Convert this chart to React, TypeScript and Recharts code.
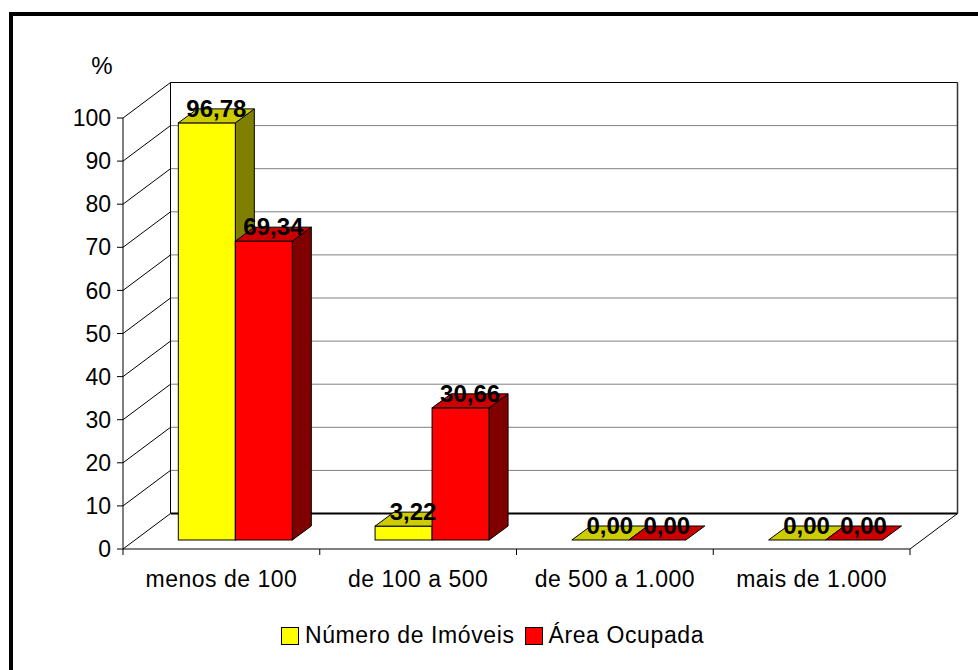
import React from 'react';
import {
  BarChart,
  Bar,
  XAxis,
  YAxis,
  CartesianGrid,
  ReferenceArea,
  LabelList,
  Legend,
} from 'recharts';

// Faixas de área (ha) e percentuais de cada série
const categories = ['menos de 100', 'de 100 a 500', 'de 500 a 1.000', 'mais de 1.000'];
const numeroImoveis = [96.78, 3.22, 0.0, 0.0];
const areaOcupada = [69.34, 30.66, 0.0, 0.0];
const yTicks = [0, 10, 20, 30, 40, 50, 60, 70, 80, 90, 100];

const seriesNames = { imoveis: 'Número de Imóveis', area: 'Área Ocupada' };

const data = categories.map((faixa, i) => ({
  faixa,
  imoveis: numeroImoveis[i],
  area: areaOcupada[i],
}));

const FONT = '"Liberation Sans", Arial, sans-serif';

// Pseudo-3D geometry: back wall offset and bar placement inside the depth
const WALL_DX = 47.5;
const WALL_DY = -35.5;
const BAR_DX = 14;
const BAR_DY = -9;
const DEPTH_DX = 19;
const DEPTH_DY = -14;

const fmt = (v: number) => v.toFixed(2).replace('.', ',');

const makeBox = (front: string, top: string, side: string) => (props: any) => {
  const { x, y, width, height } = props;
  if (x == null || y == null) return null;
  const fx = x + BAR_DX;
  const fy = y + BAR_DY;
  const h = Math.max(0, height || 0);
  const topPts = [
    [fx, fy],
    [fx + width, fy],
    [fx + width + DEPTH_DX, fy + DEPTH_DY],
    [fx + DEPTH_DX, fy + DEPTH_DY],
  ]
    .map((p) => p.join(','))
    .join(' ');
  const sidePts = [
    [fx + width, fy],
    [fx + width + DEPTH_DX, fy + DEPTH_DY],
    [fx + width + DEPTH_DX, fy + h + DEPTH_DY],
    [fx + width, fy + h],
  ]
    .map((p) => p.join(','))
    .join(' ');
  return (
    <g>
      {h > 0 && <polygon points={sidePts} fill={side} stroke="#000" strokeWidth={1} strokeLinejoin="round" />}
      {h > 0 && <rect x={fx} y={fy} width={width} height={h} fill={front} stroke="#000" strokeWidth={1} />}
      <polygon points={topPts} fill={top} stroke="#000" strokeWidth={1} strokeLinejoin="round" />
    </g>
  );
};

const YellowBox = makeBox('#FFFF00', '#CCCC00', '#808000');
const RedBox = makeBox('#FF0000', '#CC0000', '#800000');

const ValueLabel = (props: any) => {
  const { x, y, width, value } = props;
  if (x == null || y == null) return null;
  const cx = x + BAR_DX + width / 2 + DEPTH_DX / 2;
  const by = y + BAR_DY - 6;
  return (
    <text
      x={cx}
      y={by}
      textAnchor="middle"
      fontFamily={FONT}
      fontSize={24}
      fontWeight="bold"
      fill="#000"
    >
      {fmt(Number(value))}
    </text>
  );
};

// Side wall diagonals and back wall gridlines, one pair per y tick
const gridLine = (props: any) => {
  const { x1, y1, x2, y2, y, height, index } = props;
  const isFloor = y != null && height != null && Math.abs(y1 - (y + height)) < 0.5;
  return (
    <g key={`g-${index}-${y1}`}>
      <line x1={x1} y1={y1} x2={x1 + WALL_DX} y2={y1 + WALL_DY} stroke="#000" strokeWidth={1} />
      <line
        x1={x1 + WALL_DX}
        y1={y1 + WALL_DY}
        x2={x2 + WALL_DX}
        y2={y2 + WALL_DY}
        stroke={isFloor ? '#000' : '#808080'}
        strokeWidth={isFloor ? 2 : 1}
      />
    </g>
  );
};

// Outline of the back wall, floor edge, category ticks and unit label
const WallFrame = (props: any) => {
  const { x, y, width, height } = props;
  if (x == null) return null;
  const n = categories.length;
  const bx = x + WALL_DX;
  const by = y + WALL_DY;
  return (
    <g>
      <line x1={bx} y1={by} x2={bx + width} y2={by} stroke="#000" strokeWidth={1} />
      <line x1={bx} y1={by} x2={bx} y2={by + height} stroke="#000" strokeWidth={1} />
      <line x1={bx + width} y1={by} x2={bx + width} y2={by + height} stroke="#333" strokeWidth={1.5} />
      <line x1={x + width} y1={y + height} x2={bx + width} y2={by + height} stroke="#000" strokeWidth={1} />
      {Array.from({ length: n + 1 }, (_, i) => (
        <line
          key={i}
          x1={x + (i * width) / n}
          y1={y + height}
          x2={x + (i * width) / n}
          y2={y + height + 6}
          stroke="#000"
          strokeWidth={1}
        />
      ))}
      <text x={x - 21} y={y - 44} textAnchor="middle" fontFamily={FONT} fontSize={24} fill="#000">
        %
      </text>
    </g>
  );
};

const LegendContent = (props: any) => {
  const { payload } = props;
  return (
    <div
      style={{
        display: 'flex',
        justifyContent: 'center',
        alignItems: 'center',
        fontFamily: FONT,
        fontSize: 23,
        color: '#000',
      }}
    >
      {(payload || []).map((entry: any) => (
        <span key={entry.value} style={{ display: 'flex', alignItems: 'center', marginRight: 10 }}>
          <span
            style={{
              width: 16,
              height: 16,
              background: entry.color,
              border: '1.5px solid #000',
              marginRight: 6,
              display: 'inline-block',
            }}
          />
          <span style={{ letterSpacing: 0.6 }}>{entry.value}</span>
        </span>
      ))}
    </div>
  );
};

export default function App() {
  return (
    <div
      style={{
        position: 'absolute',
        left: 0,
        top: 0,
        width: 978,
        height: 670,
        overflow: 'hidden',
        background: '#fff',
      }}
    >
      <BarChart
        width={978}
        height={670}
        data={data}
        margin={{ top: 118, right: 68, bottom: 81, left: 63 }}
        barCategoryGap="21%"
        barGap={0}
      >
        <CartesianGrid horizontal={gridLine} vertical={false} />
        <ReferenceArea
          x1={categories[0]}
          x2={categories[categories.length - 1]}
          y1={0}
          y2={100}
          shape={WallFrame}
          ifOverflow="visible"
        />
        <XAxis
          dataKey="faixa"
          height={40}
          tickLine={false}
          tickMargin={16}
          axisLine={{ stroke: '#000' }}
          tick={{ fontFamily: FONT, fontSize: 23, fill: '#000', letterSpacing: 0.5 }}
          interval={0}
        />
        <YAxis
          width={60}
          domain={[0, 100]}
          ticks={yTicks}
          interval={0}
          tickSize={6}
          tickMargin={6}
          axisLine={{ stroke: '#000' }}
          tickLine={{ stroke: '#000' }}
          tick={{ fontFamily: FONT, fontSize: 23, fill: '#000' }}
        />
        <Legend
          layout="horizontal"
          verticalAlign="middle"
          align="center"
          content={LegendContent}
          wrapperStyle={{ position: 'absolute', left: 17, top: 622, width: 961 }}
        />
        <Bar
          dataKey="imoveis"
          name={seriesNames.imoveis}
          fill="#FFFF00"
          shape={YellowBox}
          isAnimationActive={false}
        >
          <LabelList dataKey="imoveis" content={ValueLabel} />
        </Bar>
        <Bar
          dataKey="area"
          name={seriesNames.area}
          fill="#FF0000"
          shape={RedBox}
          isAnimationActive={false}
        >
          <LabelList dataKey="area" content={ValueLabel} />
        </Bar>
      </BarChart>
      <div
        style={{
          position: 'absolute',
          left: 9,
          top: 12,
          width: 1100,
          height: 800,
          border: '4px solid #000',
          pointerEvents: 'none',
        }}
      />
    </div>
  );
}
